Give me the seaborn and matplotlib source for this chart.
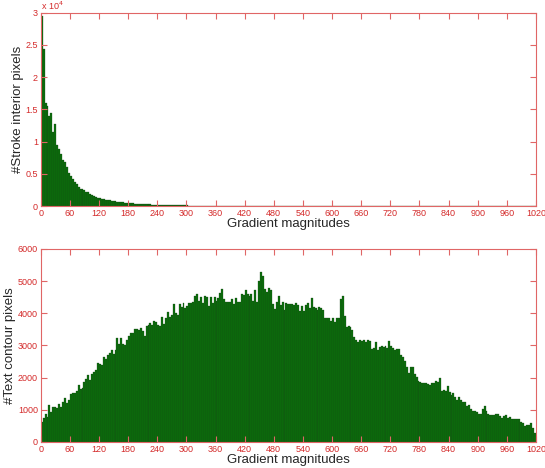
import numpy as np
import pandas as pd
import matplotlib
matplotlib.use('Agg')
import matplotlib.pyplot as plt
import seaborn as sns
from matplotlib.ticker import FuncFormatter, MultipleLocator

# histogram bins: width 4 over 0..1020
bin_width = 4
x_max = 1020

# counts per bin (top panel)
stroke_interior = [
    29500, 24300, 16000, 15500, 14000, 14500, 11500, 12700, 9500, 8800, 8000, 7200, 6800, 6000, 5200,
    4700, 4200, 3700, 3400, 3000, 2700, 2600, 2500, 2200, 2100, 1900, 1700, 1550, 1400, 1300,
    1200, 1100, 1050, 1000, 950, 880, 820, 780, 720, 680, 620, 580, 550, 500, 480,
    450, 420, 400, 380, 360, 330, 300, 290, 280, 260, 250, 240, 220, 210, 200,
    190, 180, 170, 160, 150, 140, 135, 130, 120, 115, 110, 100, 95, 90, 85,
    80, 78, 75, 70, 68, 65, 60, 58, 55, 52, 50, 48, 45, 42, 40,
    38, 36, 35, 33, 32, 30, 28, 27, 26, 25, 24, 23, 22, 21, 20,
    25, 30, 22, 18, 17, 16, 15, 14, 13, 12, 12, 11, 11, 10, 10,
    9, 9, 8, 20, 25, 8, 7, 7, 6, 6, 6, 5, 5, 5, 5,
    5, 4, 4, 4, 4, 4, 4, 3, 3, 3, 3, 3, 3, 3, 3,
    3, 3, 2, 2, 2, 2, 2, 2, 2, 2, 2, 2, 2, 2, 2,
    2, 2, 2, 2, 2, 2, 2, 2, 2, 2, 2, 2, 2, 2, 2,
    2, 2, 2, 2, 2, 2, 2, 2, 2, 2, 2, 2, 2, 2, 2,
    2, 2, 2, 2, 2, 2, 2, 2, 2, 2, 2, 2, 2, 2, 2,
    1, 1, 1, 1, 1, 1, 1, 1, 1, 1, 1, 1, 1, 1, 1,
    1, 1, 1, 1, 1, 1, 1, 1, 1, 1, 1, 1, 1, 1, 1,
    1, 1, 1, 1, 1, 1, 1, 1, 1, 1, 1, 1, 1, 1, 1,
]

# counts per bin (bottom panel)
text_contour = [
    625, 730, 865, 780, 1135, 925, 1080, 1080, 1050, 1175,
    1095, 1250, 1355, 1220, 1300, 1480, 1530, 1510, 1580, 1770,
    1635, 1665, 1855, 1950, 2085, 1930, 2115, 2190, 2240, 2470,
    2430, 2385, 2655, 2595, 2710, 2760, 2865, 2740, 2845, 3220,
    3050, 3240, 3050, 3020, 3165, 3300, 3385, 3385, 3510, 3500,
    3490, 3540, 3450, 3300, 3590, 3645, 3700, 3625, 3760, 3740,
    3645, 3590, 3875, 3665, 3845, 4030, 3885, 3960, 4290, 4010,
    3960, 4280, 4190, 4320, 4165, 4220, 4320, 4320, 4365, 4550,
    4595, 4375, 4500, 4320,
    4530, 4500, 4240, 4510, 4320, 4500, 4380, 4470, 4635, 4760, 4430,
    4355, 4355, 4365, 4450, 4300, 4480, 4345, 4365, 4595, 4570,
    4710, 4595, 4530, 4615, 4375, 4710, 4355, 5000, 5290, 5175,
    4760, 4665, 4790, 4710, 4300, 4145, 4345, 4550, 4250, 4365,
    4115, 4320, 4290, 4300, 4280, 4260, 4320, 4260, 4060, 4240, 4085,
    4260, 4320, 4165, 4480, 4190, 4175, 4115, 4200, 4180, 4115, 3845,
    3865, 3845, 3770, 3845, 3730, 3855, 3845, 4430, 4550, 3905,
    3575, 3590, 3575, 3470, 3260, 3155, 3095, 3165, 3125, 3165,
    3095, 3175, 3125, 2885, 2915,
    3105, 2865, 2945, 2990, 2945, 2990, 2915, 3125, 2970, 2915,
    2865, 2905, 2905, 2710, 2635, 2530, 2320, 2155, 2320, 2345,
    2105, 2010, 1905, 1865, 1820, 1845, 1820, 1800, 1770, 1820,
    1845, 1905, 1865, 1980, 1595, 1615, 1595, 1740, 1565, 1460,
    1510, 1385, 1300, 1405, 1300, 1250, 1230, 1115, 1135, 1020,
    970, 950, 925, 865, 885, 1040, 1125, 970, 865, 845,
    845, 825, 865, 855, 800, 760, 800, 835, 760, 780,
    700, 710, 700, 720, 700, 615, 575, 510, 530, 540,
    575, 440, 280,
]

xlabel = 'Gradient magnitudes'
ylabel_top = '#Stroke interior pixels'
ylabel_bottom = '#Text contour pixels'

axis_red = '#e06666'
label_red = '#d42a2a'
bar_green = '#0b6e0b'

sns.set_style('ticks')
plt.rcParams['font.family'] = ['Liberation Sans', 'DejaVu Sans']
# MATLAB-like boxed axes with inward ticks on all four sides
plt.rcParams.update({
    'axes.axisbelow': False,
    'xtick.bottom': True, 'xtick.top': True,
    'ytick.left': True, 'ytick.right': True,
    'xtick.direction': 'in', 'ytick.direction': 'in',
    'xtick.major.size': 4, 'ytick.major.size': 4,
    'xtick.major.width': 0.8, 'ytick.major.width': 0.8,
    'xtick.color': axis_red, 'ytick.color': axis_red,
    'xtick.labelcolor': label_red, 'ytick.labelcolor': label_red,
})

fig = plt.figure(figsize=(5.45, 4.68), dpi=100)
ax1 = fig.add_axes([0.0747, 0.5598, 0.9088, 0.4131])
ax2 = fig.add_axes([0.0747, 0.0556, 0.9088, 0.4124])

n_bins = x_max // bin_width


def draw_panel(ax, counts, ylabel, ymax, ystep):
    n = min(len(counts), n_bins)
    df = pd.DataFrame({'g': np.arange(n) * bin_width + bin_width / 2,
                       'n': counts[:n]})
    sns.histplot(data=df, x='g', weights='n', binwidth=bin_width,
                 binrange=(0, x_max), ax=ax,
                 color=bar_green, edgecolor='#174417', linewidth=0.2, alpha=1)
    ax.set_xlim(0, x_max)
    ax.set_ylim(0, ymax)
    ax.xaxis.set_major_locator(MultipleLocator(60))
    ax.yaxis.set_major_locator(MultipleLocator(ystep))
    ax.tick_params(which='major', direction='in', bottom=True, left=True,
                   top=True, right=True, length=4, width=0.8,
                   color=axis_red, labelcolor=label_red, labelsize=6.5, pad=2)
    for s in ax.spines.values():
        s.set_visible(True)
        s.set_color(axis_red)
        s.set_linewidth(0.8)
        s.set_zorder(3)
    ax.set_xlabel(xlabel, fontsize=9.5, labelpad=0)
    ax.set_ylabel(ylabel, fontsize=9.5, labelpad=1)


draw_panel(ax1, stroke_interior, ylabel_top, 30000, 5000)
ax1.yaxis.set_major_formatter(FuncFormatter(lambda v, _: f'{v / 1e4:g}'))
ax1.text(0.0, 1.004, r'x 10$^4$', transform=ax1.transAxes, color=label_red,
         fontsize=6.5, ha='left', va='bottom')

draw_panel(ax2, text_contour, ylabel_bottom, 6000, 1000)

fig.savefig('out.png', dpi=100)
